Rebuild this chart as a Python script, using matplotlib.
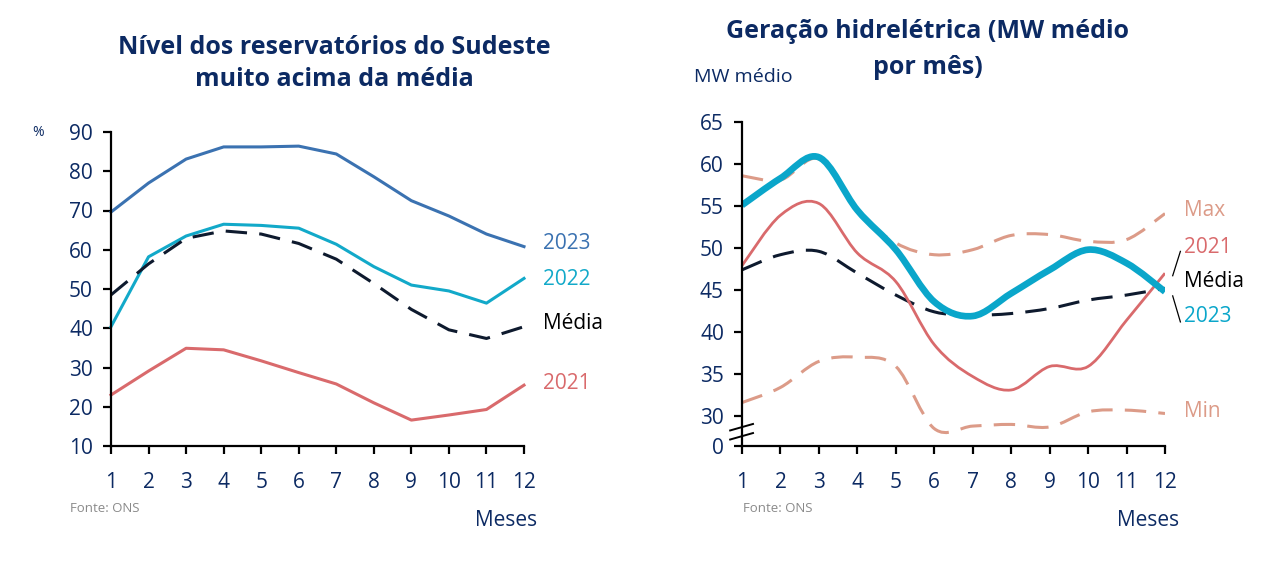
import numpy as np
import matplotlib.pyplot as plt
from matplotlib.path import Path
from matplotlib.patches import PathPatch

plt.rcParams['font.family'] = ['Open Sans', 'DejaVu Sans']

# =========================
# DATA
# =========================
meses = list(range(1, 13))

# reservatorios do Sudeste (%)
res_2023 = [69.6, 77.0, 83.1, 86.2, 86.2, 86.4, 84.4, 78.6, 72.5, 68.6, 64.0, 60.8]
res_2022 = [40.4, 58.2, 63.5, 66.5, 66.2, 65.5, 61.4, 55.7, 51.0, 49.5, 46.4, 52.7]
res_media = [48.5, 56.4, 62.9, 64.8, 64.0, 61.6, 57.6, 51.4, 44.8, 39.6, 37.4, 40.4]
res_2021 = [23.0, 29.1, 34.9, 34.5, 31.7, 28.7, 25.8, 21.0, 16.6, 17.9, 19.3, 25.5]

# geracao hidreletrica (MW medio, mil)
ger_2023 = [55.1, 58.3, 60.8, 54.5, 49.8, 43.6, 41.9, 44.6, 47.4, 49.8, 48.2, 44.8]
ger_2021 = [47.9, 53.9, 55.3, 49.4, 46.0, 38.5, 34.7, 33.1, 35.9, 35.9, 41.4, 47.0]
ger_media = [47.4, 49.2, 49.6, 47.0, 44.4, 42.4, 42.0, 42.2, 42.8, 43.8, 44.4, 45.2]
ger_max = [58.6, 58.1, 60.6, 54.4, 50.6, 49.2, 49.8, 51.5, 51.6, 50.8, 51.0, 54.1]
ger_min = [31.6, 33.4, 36.5, 37.0, 35.9, 28.5, 28.8, 29.0, 28.7, 30.5, 30.7, 30.3]

ticks_res = [10, 20, 30, 40, 50, 60, 70, 80, 90]
ticks_ger = [30, 35, 40, 45, 50, 55, 60, 65]
ger_base = 26.43   # axis bottom, shown as "0" after the break

# =========================
# COLORS
# =========================
NAVY = '#0c2a63'
C2023 = '#3b72b1'
C2022 = '#12a9c9'
CMED = '#0e1a2e'
C2021 = '#d96a6c'
CMM = '#dc9b88'
CGRAY = '#8a8a8a'


def smooth_line(ax, x, y, **kw):
    # excel-like smoothed line: bezier through every point
    x = np.asarray(x, float)
    y = np.asarray(y, float)
    pts = np.column_stack([x, y])
    n = len(pts)
    verts = [pts[0]]
    codes = [Path.MOVETO]
    for i in range(n - 1):
        p0 = pts[max(i - 1, 0)]
        p1 = pts[i]
        p2 = pts[i + 1]
        p3 = pts[min(i + 2, n - 1)]
        c1 = p1 + (p2 - p0) / 6.0
        c2 = p2 - (p3 - p1) / 6.0
        verts += [c1, c2, p2]
        codes += [Path.CURVE4] * 3
    patch = PathPatch(Path(verts, codes), fill=False, capstyle='butt',
                      joinstyle='round', **kw)
    ax.add_patch(patch)
    return patch


def style_axis(ax):
    for s in ['top', 'right']:
        ax.spines[s].set_visible(False)
    for s in ['left', 'bottom']:
        ax.spines[s].set_linewidth(1.6)
        ax.spines[s].set_color('black')
    ax.tick_params(axis='both', direction='out', length=6, width=1.6,
                   color='black', labelcolor=NAVY, labelsize=15)
    ax.tick_params(axis='x', pad=13)
    ax.tick_params(axis='y', pad=7)


fig = plt.figure(figsize=(12.75, 5.64), dpi=100)

# =========================
# LEFT: RESERVATORIOS
# =========================
ax1 = fig.add_axes([111 / 1275, 1 - 446 / 564, 413 / 1275, 314 / 564])
ax1.plot(meses, res_2023, color=C2023, lw=2.2, clip_on=False)
ax1.plot(meses, res_2022, color=C2022, lw=2.2, clip_on=False)
ax1.plot(meses, res_media, color=CMED, lw=2.2, dashes=(7, 4), clip_on=False)
ax1.plot(meses, res_2021, color=C2021, lw=2.2, clip_on=False)
ax1.set_xlim(1, 12)
ax1.set_ylim(10, 90)
ax1.set_xticks(meses)
ax1.set_yticks(ticks_res)
style_axis(ax1)

for txt, yv, col in [('2023', 61.7, C2023), ('2022', 52.5, C2022),
                     ('Média', 41.1, 'black'), ('2021', 25.8, C2021)]:
    ax1.text(12.5, yv, txt, color=col, fontsize=15, va='center', ha='left')

fig.text(334 / 1275, 1 - 47 / 564, 'Nível dos reservatórios do Sudeste',
         ha='center', va='center', fontsize=18, fontweight='bold', color=NAVY)
fig.text(334 / 1275, 1 - 80 / 564, 'muito acima da média',
         ha='center', va='center', fontsize=18, fontweight='bold', color=NAVY)
fig.text(38 / 1275, 1 - 133 / 564, '%', ha='center', va='center', fontsize=10, color=NAVY)
fig.text(70 / 1275, 1 - 509 / 564, 'Fonte: ONS', ha='left', va='center', fontsize=9.5, color=CGRAY)
fig.text(537 / 1275, 1 - 521 / 564, 'Meses', ha='right', va='center', fontsize=15, color=NAVY)

# =========================
# RIGHT: GERACAO HIDRELETRICA
# =========================
ax2 = fig.add_axes([742 / 1275, 1 - 446 / 564, 423 / 1275, 324 / 564])
smooth_line(ax2, meses, ger_max, color=CMM, lw=2.2, linestyle=(0, (7, 4)))
smooth_line(ax2, meses, ger_min, color=CMM, lw=2.2, linestyle=(0, (7, 4)))
smooth_line(ax2, meses, ger_media, color=CMED, lw=2.2, linestyle=(0, (7, 4)))
smooth_line(ax2, meses, ger_2021, color=C2021, lw=2.0)
smooth_line(ax2, meses, ger_2023, color='#0aa6ca', lw=4.8)
ax2.set_xlim(1, 12)
ax2.set_ylim(ger_base, 65)
ax2.set_xticks(meses)
ax2.set_yticks([ger_base] + ticks_ger)
ax2.set_yticklabels(['0'] + [str(t) for t in ticks_ger])
style_axis(ax2)

# axis break marks
for yb in (0.030, 0.058):
    ax2.plot([-0.028, 0.026], [yb - 0.010, yb + 0.010], transform=ax2.transAxes,
             color='black', lw=1.4, clip_on=False)

for txt, yv, col in [('Max', 54.5, CMM), ('2021', 50.1, C2021), ('Média', 46.0, 'black'),
                     ('2023', 41.8, '#0aa6ca'), ('Min', 30.5, CMM)]:
    ax2.text(12.5, yv, txt, color=col, fontsize=15, va='center', ha='left')

# leader lines
ax2.plot([12.2, 12.4], [46.7, 49.6], color='black', lw=0.9, clip_on=False)
ax2.plot([12.2, 12.4], [44.3, 41.2], color='black', lw=0.9, clip_on=False)

fig.text(928 / 1275, 1 - 32 / 564, 'Geração hidrelétrica (MW médio',
         ha='center', va='center', fontsize=18, fontweight='bold', color=NAVY)
fig.text(928 / 1275, 1 - 67 / 564, 'por mês)',
         ha='center', va='center', fontsize=18, fontweight='bold', color=NAVY)
fig.text(694 / 1275, 1 - 77 / 564, 'MW médio', ha='left', va='center', fontsize=14, color=NAVY)
fig.text(743 / 1275, 1 - 509 / 564, 'Fonte: ONS', ha='left', va='center', fontsize=9.5, color=CGRAY)
fig.text(1179 / 1275, 1 - 521 / 564, 'Meses', ha='right', va='center', fontsize=15, color=NAVY)

fig.savefig('out.png', dpi=100)
